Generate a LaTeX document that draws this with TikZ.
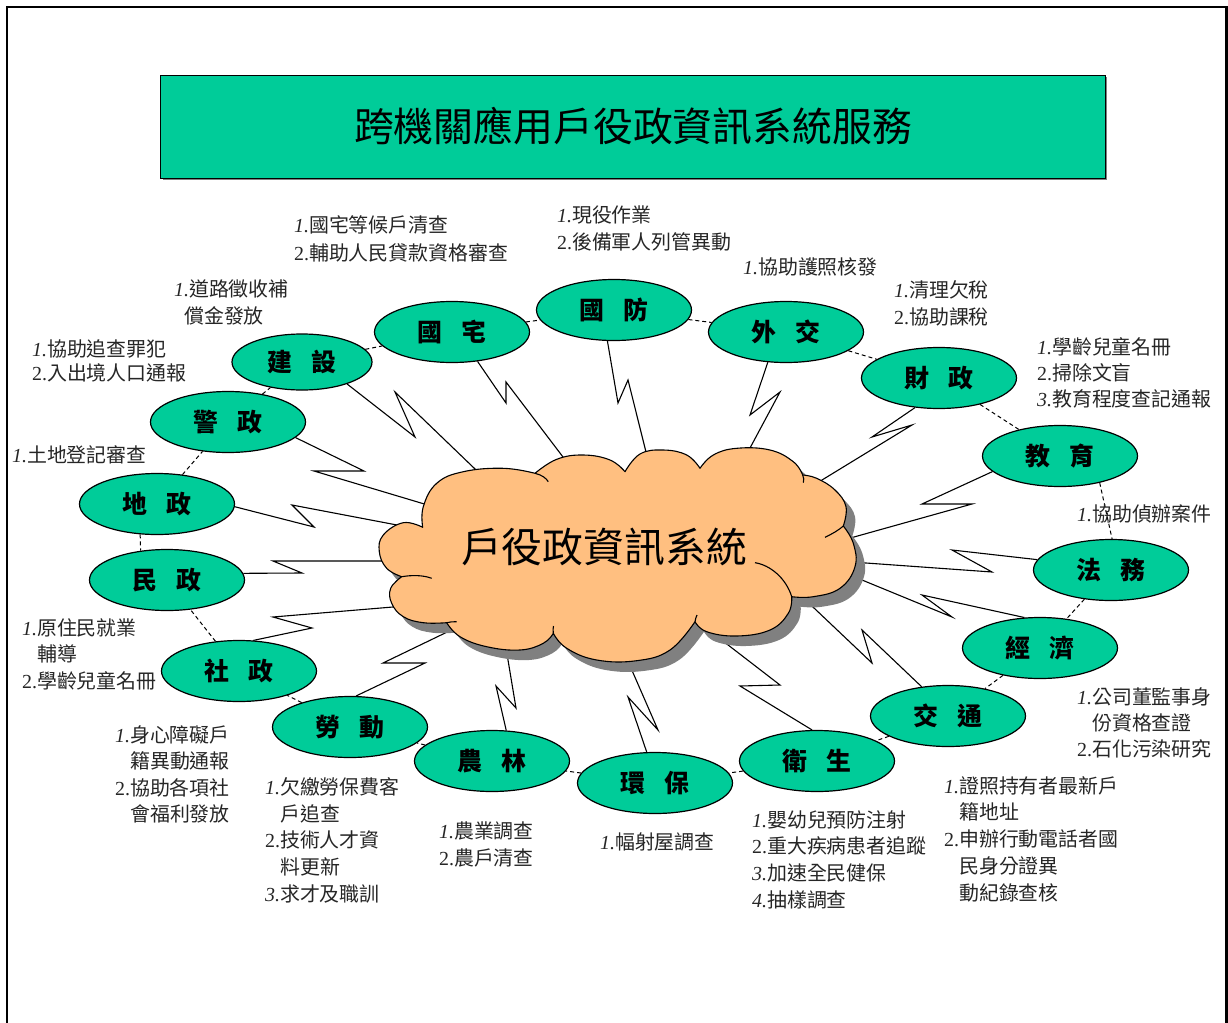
\documentclass[tikz,border=0pt]{standalone}
\usepackage{fontspec}
\setmainfont{Liberation Serif}
\newfontfamily\cjk{Noto Sans CJK TC}
\usetikzlibrary{calc,shapes.geometric}
\definecolor{tealc}{HTML}{00CC99}
\definecolor{cloudc}{HTML}{FFBF80}
\definecolor{shadc}{HTML}{808080}
\newcommand\nIt[1]{{\rmfamily\itshape #1.}}
\newcommand\nUp[1]{{\rmfamily #1.}}
\newcommand\ind{\hspace*{15bp}}
\newcommand\boltc[4]{\draw[bolt] (#1) -- #2 -- #3 -- ($#4!-12bp!#3$);}
\tikzset{
  unit/.style={ellipse, draw=black, line width=1.2bp, fill=tealc, minimum width=155bp, minimum height=61bp, inner sep=0pt, font=\cjk\bfseries\fontsize{25}{25}\selectfont},
  items/.style={anchor=north west, inner sep=0pt, align=left, text=black!85, font=\cjk\fontsize{20}{27}\selectfont},
  bolt/.style={draw=black, line width=1.1bp, line join=miter},
  ring/.style={draw=black, line width=1bp, dash pattern=on 4bp off 3bp},
}
\def\cloudpath{(422.7,527.3)
 -- plot[smooth,tension=0.7] coordinates {(422.7,527.3) (403.3,522.7) (383.3,535) (379.3,551.7) (386.7,568.3) (401.7,576.7)}
 -- plot[smooth,tension=0.7] coordinates {(401.7,576.7) (390.7,588.3) (391.7,603.3) (403.3,616.7) (423.3,622.7) (446.7,622.7)}
 -- plot[smooth,tension=0.7] coordinates {(446.7,622.7) (460,636.7) (486.7,646.7) (520,650) (543.3,643.3) (553.3,633.3)}
 -- plot[smooth,tension=0.7] coordinates {(553.3,633.3) (566.7,648.3) (596.7,660) (636.7,660.7) (670,650) (695,621.7)}
 -- plot[smooth,tension=0.7] coordinates {(695,621.7) (706.7,631.7) (736.7,636) (770,630) (788.3,613.3) (791.7,596.7)}
 -- plot[smooth,tension=0.7] coordinates {(791.7,596.7) (813.3,596.7) (840,588.3) (855,566.7) (853.3,543.3) (843.3,526)}
 -- plot[smooth,tension=0.7] coordinates {(843.3,526) (846,506.7) (835,490) (816.7,478.3) (802.7,475)}
 -- plot[smooth,tension=0.7] coordinates {(802.7,475) (793.3,461.7) (770,450) (736.7,448.3) (713.3,455) (700,468.3)}
 -- plot[smooth,tension=0.7] coordinates {(700,468.3) (686.7,455) (663.3,450) (640,454) (625,471.7)}
 -- plot[smooth,tension=0.7] coordinates {(625,471.7) (610,460) (583.3,455) (556.7,459.3) (535,473.3)}
 -- plot[smooth,tension=0.7] coordinates {(535,473.3) (503.3,468.3) (463.3,471.7) (436.7,483.3) (423.3,506.7) (422.7,527.3)}
 -- cycle}
\begin{document}
\begin{tikzpicture}[x=1bp,y=-1bp]
\useasboundingbox (0,0) rectangle (1228,1023);
% frame
\draw[line width=2.5bp] (7,1025) -- (7,7) -- (1226.5,7) -- (1226.5,1025);
% title
\fill[shadc] (163,77) rectangle (1107,180);
\node[draw=black, line width=1bp, fill=tealc, minimum width=944bp, minimum height=103bp, inner sep=0pt,
      font=\cjk\fontsize{40}{40}\selectfont] (title) at (633,126.5) {跨機關應用戶役政資訊系統服務};
% units
\node[unit] (gz) at (452,332) {國\hspace{20bp}宅};
\node[unit] (gf) at (614,310) {國\hspace{20bp}防};
\node[unit] (wj) at (786,332) {外\hspace{20bp}交};
\node[unit] (cz) at (939,378) {財\hspace{20bp}政};
\node[unit] (jy) at (1060,456) {教\hspace{20bp}育};
\node[unit] (fw) at (1111,570) {法\hspace{20bp}務};
\node[unit] (jj) at (1040,648) {經\hspace{20bp}濟};
\node[unit] (jt) at (948,716) {交\hspace{20bp}通};
\node[unit] (ws) at (817,761) {衛\hspace{20bp}生};
\node[unit] (hb) at (655,783) {環\hspace{20bp}保};
\node[unit] (nl) at (492,761) {農\hspace{20bp}林};
\node[unit] (ld) at (350,727) {勞\hspace{20bp}動};
\node[unit] (sz) at (239,671) {社\hspace{20bp}政};
\node[unit] (mz) at (167,580) {民\hspace{20bp}政};
\node[unit] (dz) at (157,504) {地\hspace{20bp}政};
\node[unit] (jz) at (228,422) {警\hspace{20bp}政};
\node[unit, minimum width=140bp, minimum height=56bp] (js) at (302,362) {建\hspace{20bp}設};
% dashed ring
\foreach \a/\b in {js/gz,gz/gf,gf/wj,wj/cz,cz/jy,fw/jj,jj/jt,jt/ws,ws/hb,hb/nl,nl/ld,ld/sz,sz/mz,dz/jz,jz/js}
  \draw[ring] (\a) -- (\b);
\draw[ring] (jy.-34) -- (fw.88);
\draw[ring] (dz.241.8) -- (mz.132.2);
% lightning connectors
\boltc{gz.-49}{(506,403)}{(506,382)}{(563,457)}
\boltc{js.-26.6}{(415,437)}{(395,392)}{(474,468)}
\boltc{jz.-13}{(364,471)}{(314,471)}{(421,503)}
\boltc{dz.-2}{(314,527)}{(292,505)}{(397,525)}
\boltc{mz.5}{(302,573)}{(273,561)}{(381,561)}
\boltc{sz.65.7}{(312,628)}{(273,617)}{(393,607)}
\boltc{ld.79}{(425,663)}{(383,663)}{(441,635)}
\boltc{nl.65.7}{(496,686)}{(516,708)}{(508,660)}
\boltc{hb.105}{(628,697)}{(658,730)}{(634,675)}
\boltc{ws.99}{(740,686)}{(780,685)}{(732,648)}
\boltc{jt.132}{(862,630)}{(872,663)}{(814,608)}
\boltc{jj.117}{(922,595)}{(952,617)}{(862,580)}
\boltc{fw.172.6}{(952,550)}{(992,572)}{(866,563)}
\boltc{jy.193}{(922,504)}{(972,504)}{(854,537)}
\boltc{cz.231.6}{(872,437)}{(912,425)}{(822,480)}
\boltc{wj.239.9}{(750,415)}{(780,392)}{(750,448)}
\boltc{gf.258.7}{(618,403)}{(628,380)}{(646,452)}
% cloud
\fill[shadc, shift={(9,10)}] \cloudpath;
\filldraw[fill=cloudc, draw=black, line width=1.1bp, line join=round] \cloudpath;
\draw[line width=1.1bp] (535,473.3) .. controls (542,475) and (546,478) .. (548.3,481.7);
\draw[line width=1.1bp] (802.7,475) .. controls (804,478) and (804,480) .. (803.3,482.7);
\draw[line width=1.1bp] (825,537.3) .. controls (832,534) and (839,530) .. (843.3,526);
\draw[line width=1.1bp] (755,562.7) .. controls (770,565) and (786,578) .. (791.7,596.7);
\draw[line width=1.1bp] (401.7,576.7) .. controls (412,575) and (423,575) .. (431.7,578.3);
\draw[line width=1.1bp] (446.7,622.7) .. controls (450,622) and (453,621.5) .. (456.7,621.7);
\draw[line width=1.1bp] (695,621.7) .. controls (695.5,619) and (696,617) .. (697,615);
\draw[line width=1.1bp] (553.3,633.3) .. controls (553,630) and (553,628) .. (553.5,626);
\node[font=\cjk\fontsize{41}{41}\selectfont, inner sep=0pt] (core) at (604,547) {戶役政資訊系統};
% item texts
\node[items, font=\cjk\fontsize{20}{28.5}\selectfont] (tgz) at (294,215) {\nIt{1}國宅等候戶清查\\\nUp{2}輔助人民貸款資格審查};
\node[items] (tgf) at (557,206) {\nIt{1}現役作業\\\nUp{2}後備軍人列管異動};
\node[items] (twj) at (743,257) {\nIt{1}協助護照核發};
\node[items] (tcz) at (894,280) {\nIt{1}清理欠稅\\\nUp{2}協助課稅};
\node[items, font=\cjk\fontsize{20}{26.5}\selectfont] (tjy) at (1037,337) {\nIt{1}學齡兒童名冊\\\nUp{2}掃除文盲\\\nIt{3}教育程度查記通報};
\node[items] (tfw) at (1077,505) {\nIt{1}協助偵辦案件};
\node[items, font=\cjk\fontsize{20}{26.5}\selectfont] (tjj) at (1077,687) {\nIt{1}公司董監事身\\\ind 份資格查證\\\nUp{2}石化污染研究};
\node[items] (tjt) at (944,776) {\nIt{1}證照持有者最新戶\\\ind 籍地址\\\nUp{2}申辦行動電話者國\\\ind 民身分證異\\\ind 動紀錄查核};
\node[items] (tws) at (752,810) {\nIt{1}嬰幼兒預防注射\\\nUp{2}重大疾病患者追蹤\\\nIt{3}加速全民健保\\\nIt{4}抽樣調查};
\node[items] (thb) at (600,833) {\nIt{1}幅射屋調查};
\node[items, font=\cjk\fontsize{20}{26.5}\selectfont] (tnl) at (439,822) {\nIt{1}農業調查\\\nUp{2}農戶清查};
\node[items] (tld) at (265,777) {\nIt{1}欠繳勞保費客\\\ind 戶追查\\\nUp{2}技術人才資\\\ind 料更新\\\nIt{3}求才及職訓};
\node[items, font=\cjk\fontsize{20}{26.7}\selectfont] (tsz) at (115,725) {\nIt{1}身心障礙戶\\\ind 籍異動通報\\\nUp{2}協助各項社\\\ind 會福利發放};
\node[items] (tmz) at (22,618) {\nIt{1}原住民就業\\\ind 輔導\\\nUp{2}學齡兒童名冊};
\node[items] (tdz) at (12,445) {\nIt{1}土地登記審查};
\node[items, font=\cjk\fontsize{20}{24.5}\selectfont] (tjz) at (32,339) {\nIt{1}協助追查罪犯\\\nUp{2}入出境人口通報};
\node[items, font=\cjk\fontsize{20}{27}\selectfont] (tjs) at (174,280) {\nIt{1}道路徵收補\\\hspace*{10bp}償金發放};
\end{tikzpicture}
\end{document}
